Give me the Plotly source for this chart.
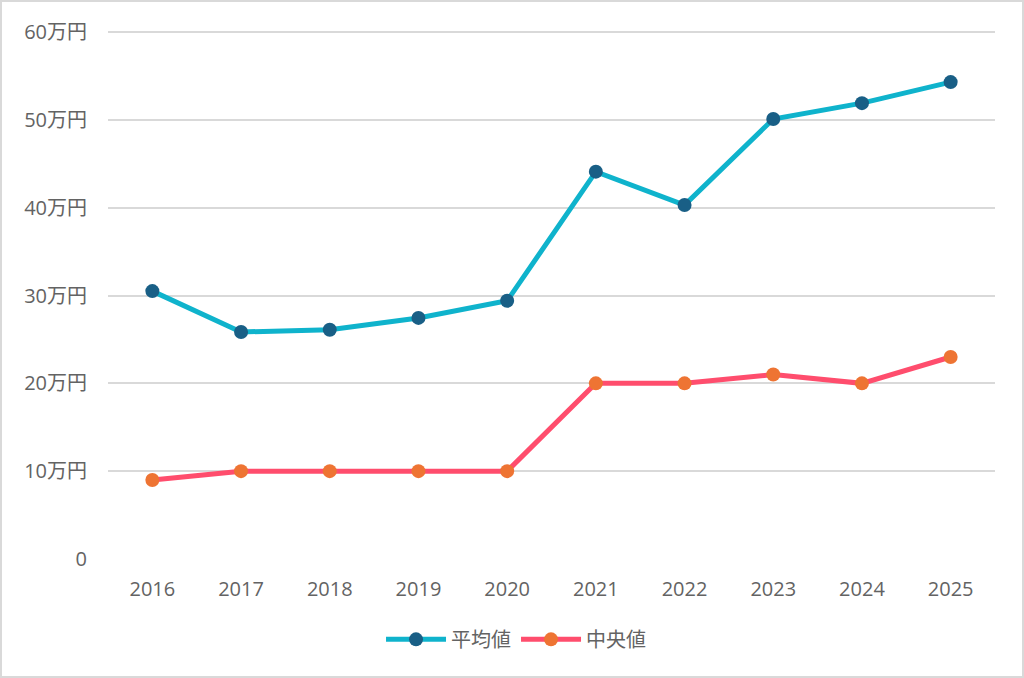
import plotly.graph_objects as go

years = ["2016", "2017", "2018", "2019", "2020", "2021", "2022", "2023", "2024", "2025"]
avg_values = [30.5, 25.85, 26.1, 27.45, 29.4, 44.1, 40.3, 50.1, 51.9, 54.3]
median_values = [9, 10, 10, 10, 10, 20, 20, 21, 20, 23]
y_tick_vals = [0, 10, 20, 30, 40, 50, 60]
y_tick_text = ["0", "10万円", "20万円", "30万円", "40万円", "50万円", "60万円"]

W, H = 1024, 678
L, R, T, B = 108, 29, 30, 119
pw, ph = W - L - R, H - T - B

font_family = "Open Sans, Noto Sans CJK JP, sans-serif"
txt_color = "#636363"

fig = go.Figure()
fig.add_trace(go.Scatter(
    x=years, y=avg_values, name="平均値", mode="lines+markers",
    line=dict(color="#0FB3CC", width=5),
    marker=dict(color="#195F86", size=14),
))
fig.add_trace(go.Scatter(
    x=years, y=median_values, name="中央値", mode="lines+markers",
    line=dict(color="#FF4D6D", width=5),
    marker=dict(color="#EE7433", size=14),
))

fig.update_layout(
    width=W, height=H,
    margin=dict(l=L, r=R, t=T, b=B),
    paper_bgcolor="white", plot_bgcolor="white",
    font=dict(family=font_family, size=20, color=txt_color),
    showlegend=True,
    legend=dict(orientation="h", x=0.46, xanchor="center", y=-0.115, yanchor="top",
                font=dict(size=20, color=txt_color, family="Noto Sans CJK JP, sans-serif"),
                itemwidth=60, tracegroupgap=0),
    xaxis=dict(type="category", range=[-0.5, 9.5], showgrid=False, showline=False,
               zeroline=False, ticks="", ticklabelstandoff=16,
               tickfont=dict(size=20, color=txt_color)),
    yaxis=dict(range=[0, 60.23], tickvals=y_tick_vals, ticktext=y_tick_text,
               showgrid=True, gridcolor="#D9D9D9", gridwidth=1.5, zeroline=False,
               showline=False, ticks="", ticklabelstandoff=20,
               tickfont=dict(size=20, color=txt_color)),
    shapes=[dict(type="rect", xref="paper", yref="paper",
                 x0=(-L + 1) / pw, x1=(W - L - 1) / pw,
                 y0=(-B + 1) / ph, y1=(H - B - 1) / ph,
                 line=dict(color="#D9D9D9", width=2), fillcolor="rgba(0,0,0,0)", layer="below")],
)

fig.write_html("out.html", config={"displayModeBar": False})

with open("out.html", "r", encoding="utf-8") as f:
    html = f.read()
html = html.replace("<body>", '<body style="margin:0;padding:0;overflow:hidden">', 1)
with open("out.html", "w", encoding="utf-8") as f:
    f.write(html)
